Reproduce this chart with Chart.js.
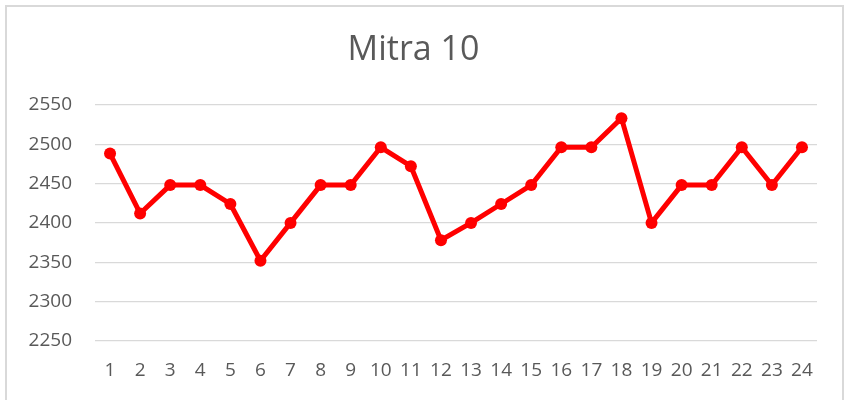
<!DOCTYPE html>
<html>
<head>
<meta charset="utf-8">
<script src="https://cdn.jsdelivr.net/npm/chart.js@4/dist/chart.umd.min.js"></script>
<style>
  html, body { margin: 0; padding: 0; background: #fff; }
  #wrap { width: 849px; height: 400px; position: relative; }
</style>
</head>
<body>
<div id="wrap"><canvas id="chart" width="849" height="400"></canvas></div>
<script>
const days = ["1","2","3","4","5","6","7","8","9","10","11","12","13","14","15","16","17","18","19","20","21","22","23","24"];
const values = [2488, 2412, 2448, 2448, 2424, 2352, 2400, 2448, 2448, 2496, 2472, 2378,
                2400, 2424, 2448, 2496, 2496, 2533, 2400, 2448, 2448, 2496, 2448, 2496];
const yTicks = [2250, 2300, 2350, 2400, 2450, 2500, 2550];

const textColor = "#595959";
const fontFamily = "'Open Sans', 'Liberation Sans', sans-serif";

// frame round the chart
const framePlugin = {
  id: "frame",
  beforeDraw(chart) {
    const ctx = chart.ctx;
    ctx.save();
    ctx.fillStyle = "#fff";
    ctx.fillRect(0, 0, chart.width, chart.height);
    ctx.strokeStyle = "#d9d9d9";
    ctx.lineWidth = 2;
    ctx.beginPath();
    ctx.moveTo(6, 402);
    ctx.lineTo(6, 6);
    ctx.lineTo(843, 6);
    ctx.lineTo(843, 402);
    ctx.stroke();
    ctx.restore();
  }
};

const ctx = document.getElementById("chart").getContext("2d");
new Chart(ctx, {
  type: "line",
  data: {
    labels: days,
    datasets: [{
      label: "Mitra 10",
      data: values,
      borderColor: "#ff0000",
      backgroundColor: "#ff0000",
      borderWidth: 5,
      pointRadius: 6,
      pointHoverRadius: 6,
      pointBorderWidth: 0,
      pointBackgroundColor: "#ff0000",
      tension: 0,
      fill: false
    }]
  },
  options: {
    responsive: false,
    animation: false,
    layout: { padding: { left: 10, right: 32, top: 0, bottom: 0 } },
    plugins: {
      legend: { display: false },
      tooltip: { enabled: false },
      title: {
        display: true,
        text: "Mitra 10",
        color: textColor,
        font: { family: fontFamily, size: 34, weight: "normal" },
        padding: { top: 30, bottom: 34 }
      }
    },
    scales: {
      x: {
        offset: true,
        afterFit(scale) { scale.height = 59; },
        grid: { display: false, drawTicks: false },
        border: { display: false },
        ticks: {
          color: textColor,
          font: { family: fontFamily, size: 19 },
          padding: 18,
          autoSkip: false,
          maxRotation: 0
        }
      },
      y: {
        min: yTicks[0],
        max: yTicks[yTicks.length - 1],
        afterFit(scale) { scale.width = 85; },
        afterBuildTicks(scale) { scale.ticks = yTicks.map(v => ({ value: v })); },
        grid: { color: "#d9d9d9", lineWidth: 1.3, drawTicks: false },
        border: { display: false },
        ticks: {
          color: textColor,
          font: { family: fontFamily, size: 19 },
          padding: 23,
          callback: v => String(v)
        }
      }
    }
  },
  plugins: [framePlugin]
});
</script>
</body>
</html>
